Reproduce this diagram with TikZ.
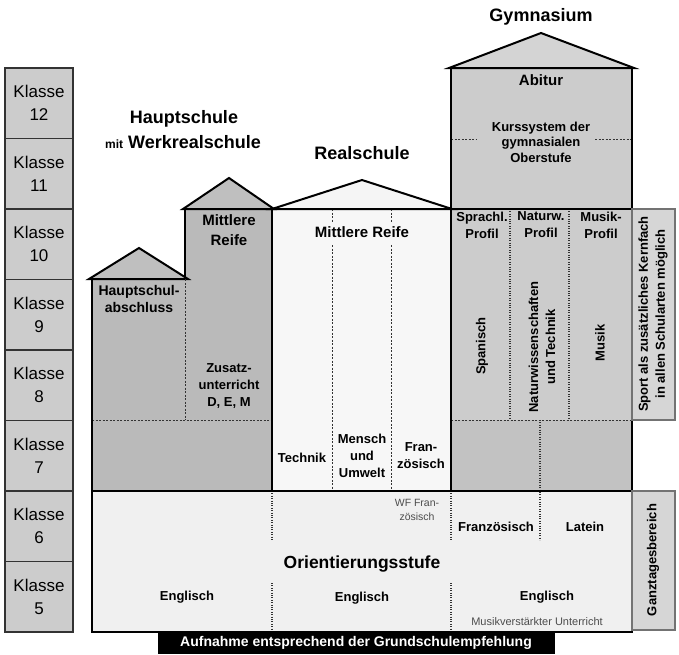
\documentclass[tikz,border=0pt]{standalone}
\usepackage{fontspec}
\setmainfont{Liberation Sans}
\begin{document}
\begin{tikzpicture}[x=1pt,y=-1pt,
  wall/.style={line width=2.4pt,line join=miter},
  roof/.style={line width=2pt,line join=miter},
  fine/.style={line width=1pt,dash pattern=on 2.2pt off 1.3pt,black!80},
  dots/.style={line width=1.1pt,dash pattern=on 1pt off 1.4pt,black!80},
  klasse/.style={draw=black!80,fill=black!20,line width=1.5pt,minimum width=68,minimum height=70.5,
    align=center,inner sep=0pt,font=\fontsize{17}{23}\selectfont},
  sidebox/.style={draw=black!55,fill=black!16,line width=1.2pt},
  title/.style={font=\bfseries\fontsize{18}{22}\selectfont},
  lab/.style={align=center,inner sep=0pt,font=\bfseries\fontsize{13}{17}\selectfont},
  biglab/.style={align=center,inner sep=0pt,font=\bfseries\fontsize{15}{20}\selectfont},
  small/.style={align=center,inner sep=0pt,text=black!70,font=\fontsize{10.5}{13.5}\selectfont}]
  \useasboundingbox (0,0) rectangle (679,654);

  % Klassen
  \foreach \k [count=\i from 0] in {12,11,...,5}
    \node[klasse] (k\k) at (39,{68+(\i+0.5)*70.5}) {Klasse\\\k};

  % fills
  \fill[black!27] (92,279) -- (185,279) -- (185,209) -- (272,209) -- (272,491) -- (92,491) -- cycle;
  \fill[black!3] (272,209) rectangle (451,491);
  \fill[black!20] (451,68) rectangle (632,420);
  \fill[black!24] (451,420) rectangle (632,491);
  \fill[black!6] (92,491) rectangle (632,632);

  % roofs
  \filldraw[roof,fill=black!25] (89,279) -- (139,248) -- (188,279) -- cycle;
  \filldraw[roof,fill=black!25] (183,209) -- (229,178) -- (274,209) -- cycle;
  \filldraw[roof,fill=black!4] (272,209) -- (362,180) -- (452,209) -- cycle;
  \filldraw[roof,fill=black!17] (449,68) -- (541,33) -- (634,68) -- cycle;

  % inner lines
  \draw[fine] (185,279) -- (185,420);
  \draw[fine] (92,420) -- (272,420);
  \draw[fine] (332,209) -- (332,222) (332,245) -- (332,491);
  \draw[fine] (391,209) -- (391,222) (391,245) -- (391,491);
  \draw[fine] (451,139) -- (476,139) (595,139) -- (632,139);
  \draw[dots] (510,209) -- (510,420);
  \draw[dots] (569,209) -- (569,420);
  \draw[fine] (451,420) -- (632,420);
  \draw[dots] (540,420) -- (540,540);
  \draw[dots] (272,491) -- (272,540) (272,583) -- (272,632);
  \draw[dots] (451,491) -- (451,540) (451,583) -- (451,632);

  % walls
  \draw[wall] (92,279) -- (92,632) -- (632,632) -- (632,68) -- (451,68) -- (451,491);
  \draw[wall] (185,279) -- (185,209) -- (272,209) -- (272,491);
  \draw[wall] (92,491) -- (632,491);
  \draw[roof] (272,209) -- (451,209);
  \draw[wall] (451,209) -- (632,209);

  % side boxes
  \draw[sidebox] (632,209) rectangle (675,420);
  \draw[sidebox] (632,491) rectangle (675,630);
  \node[lab,rotate=90] (sport) at (653,314) {Sport als zusätzliches Kernfach\\in allen Schularten möglich};
  \node[lab,rotate=90] (ganztag) at (653,560) {Ganztagesbereich};

  % titles
  \node[title] (hs) at (184,119) {Hauptschule};
  \node[title] (wrs) at (183,142) {{\fontsize{12}{14}\selectfont mit} Werkrealschule};
  \node[title] (rs) at (362,153) {Realschule};
  \node[title] (gym) at (541,17) {Gymnasium};

  % Hauptschule
  \node[lab,font=\bfseries\fontsize{14}{17}\selectfont] (hsab) at (139,299) {Hauptschul-\\abschluss};
  \node[biglab] (hsmr) at (229,230) {Mittlere\\Reife};
  \node[lab] (zusatz) at (229,386) {Zusatz-\\unterricht\\D, E, M};

  % Realschule
  \node[biglab] (rsmr) at (362,232) {Mittlere Reife};
  \node[lab] (technik) at (302,458) {Technik};
  \node[lab] (mensch) at (362,456) {Mensch\\und\\Umwelt};
  \node[lab] (franz) at (421,456) {Fran-\\zösisch};

  % Gymnasium
  \node[biglab] (abitur) at (541,80) {Abitur};
  \node[lab,font=\bfseries\fontsize{13}{15.5}\selectfont] (kurs) at (541,142) {Kurssystem der\\gymnasialen\\Oberstufe};
  \node[lab] (sprachl) at (482,225) {Sprachl.\\Profil};
  \node[lab] (naturw) at (541,225) {Naturw.\\Profil};
  \node[lab] (musikp) at (601,225) {Musik-\\Profil};
  \node[lab,rotate=90] (spanisch) at (482,346) {Spanisch};
  \node[lab,rotate=90] (nwt) at (542,347) {Naturwissenschaften\\und Technik};
  \node[lab,rotate=90] (musik) at (600,343) {Musik};

  % Orientierungsstufe
  \node[lab,font=\bfseries\fontsize{17.5}{20}\selectfont] (os) at (362,564) {Orientierungsstufe};
  \node[lab] (en1) at (187,597) {Englisch};
  \node[lab] (en2) at (362,598) {Englisch};
  \node[lab] (en3) at (547,597) {Englisch};
  \node[small,font=\fontsize{11}{13}\selectfont] (mvu) at (537,622) {Musikverstärkter Unterricht};
  \node[small] (wf) at (417,510) {WF Fran-\\zösisch};
  \node[lab] (fr) at (496,527) {Französisch};
  \node[lab] (latein) at (585,527) {Latein};

  % Aufnahme
  \fill (158,632) rectangle (555,654);
  \node[lab,text=white,font=\bfseries\fontsize{14}{17}\selectfont] (aufnahme) at (356,643) {Aufnahme entsprechend der Grundschulempfehlung};
\end{tikzpicture}
\end{document}
